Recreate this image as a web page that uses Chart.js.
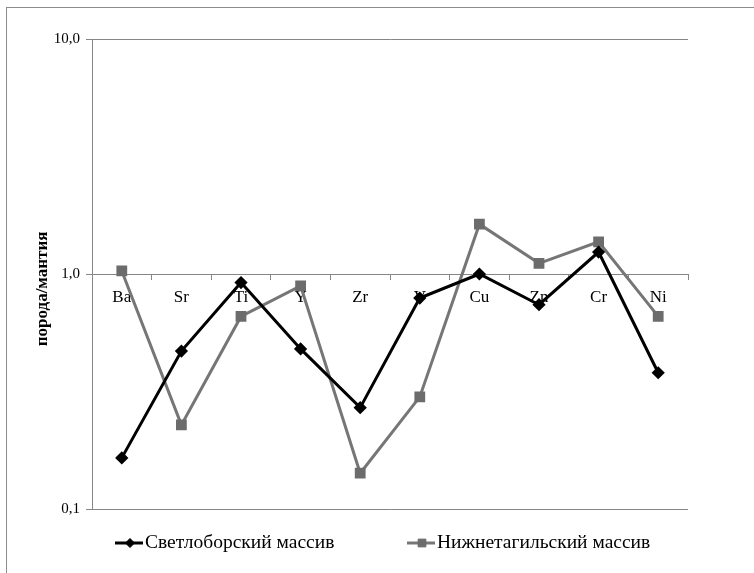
<!DOCTYPE html>
<html>
<head>
<meta charset="utf-8">
<script src="https://cdn.jsdelivr.net/npm/chart.js@4.4.0/dist/chart.umd.min.js"></script>
<style>
html, body { margin: 0; padding: 0; background: #fff; }
#myChart { display: block; }
</style>
</head>
<body>
<canvas id="myChart" width="754" height="573"></canvas>
<script>
// data (ratio rock / mantle, log scale)
var elements = ["Ba", "Sr", "Ti", "Y", "Zr", "V", "Cu", "Zn", "Cr", "Ni"];
var svetlobor = [0.165, 0.47, 0.92, 0.48, 0.27, 0.79, 1.0, 0.74, 1.24, 0.38];
var nizhnetagil = [1.03, 0.228, 0.66, 0.89, 0.142, 0.30, 1.63, 1.11, 1.37, 0.66];
var yTicks = [0.1, 1, 10];
var seriesNames = ["Светлоборский массив", "Нижнетагильский массив"];
var yTitle = "порода/мантия";

var axisGray = '#868686';
var serif = "'Liberation Serif', 'Times New Roman', serif";

// outer frame like the pasted Excel chart
var framePlugin = {
    id: 'frame',
    beforeDraw: function(chart) {
        var c = chart.ctx;
        c.save();
        c.fillStyle = '#fff';
        c.fillRect(0, 0, chart.width, chart.height);
        c.strokeStyle = '#8c8c8c';
        c.lineWidth = 1;
        c.strokeRect(6.5, 7.5, 800, 620);
        c.restore();
    }
};

// legend at the bottom: short line + marker + text
var legendPlugin = {
    id: 'bottomLegend',
    afterDraw: function(chart) {
        var c = chart.ctx;
        var pos = [115, 407];
        var y = 543;
        c.save();
        chart.data.datasets.forEach(function(ds, i) {
            var x = pos[i];
            c.strokeStyle = ds.borderColor;
            c.lineWidth = ds.borderWidth;
            c.beginPath();
            c.moveTo(x, y);
            c.lineTo(x + 28, y);
            c.stroke();
            c.fillStyle = ds.pointBackgroundColor;
            c.strokeStyle = ds.pointBorderColor;
            c.lineWidth = 1;
            Chart.helpers.drawPoint(c, {
                pointStyle: ds.pointStyle,
                radius: ds.pointRadius,
                borderWidth: 1,
                rotation: 0
            }, x + 15, y);
            c.fillStyle = '#000';
            c.font = '19.5px ' + serif;
            c.textBaseline = 'middle';
            c.textAlign = 'left';
            c.fillText(ds.label, x + 30, y);
        });
        c.restore();
    }
};

var ctx = document.getElementById('myChart').getContext('2d');
var chart = new Chart(ctx, {
    type: 'line',
    data: {
        labels: elements,
        datasets: [{
            label: seriesNames[0],
            data: svetlobor,
            borderColor: '#000000',
            backgroundColor: '#000000',
            pointBackgroundColor: '#000000',
            pointBorderColor: '#000000',
            borderWidth: 3,
            pointStyle: 'rectRot',
            pointRadius: 4.5,
            tension: 0
        }, {
            label: seriesNames[1],
            data: nizhnetagil,
            borderColor: '#767676',
            backgroundColor: '#6c6c6c',
            pointBackgroundColor: '#6c6c6c',
            pointBorderColor: '#6c6c6c',
            borderWidth: 3,
            pointStyle: 'rect',
            pointRadius: 5.5,
            tension: 0
        }]
    },
    options: {
        responsive: false,
        animation: false,
        devicePixelRatio: 1,
        layout: { padding: { left: 0, top: 39, right: 66, bottom: 64 } },
        plugins: {
            legend: { display: false },
            tooltip: { enabled: false }
        },
        scales: {
            x: {
                type: 'category',
                position: { y: 1 },
                offset: true,
                grid: {
                    offset: true,
                    drawOnChartArea: false,
                    drawTicks: true,
                    tickLength: 5,
                    color: axisGray
                },
                border: { color: axisGray, width: 1 },
                ticks: {
                    color: '#000',
                    padding: 8,
                    maxRotation: 0,
                    autoSkip: false,
                    font: { family: serif, size: 17 }
                }
            },
            y: {
                type: 'logarithmic',
                min: 0.1,
                max: 10,
                afterBuildTicks: function(scale) {
                    scale.ticks = yTicks.map(function(v) { return { value: v }; });
                },
                afterFit: function(scale) {
                    scale.width = 92;
                },
                grid: {
                    color: axisGray,
                    drawTicks: true,
                    tickLength: 6
                },
                border: { color: axisGray, width: 1 },
                ticks: {
                    color: '#000',
                    padding: 6,
                    font: { family: serif, size: 15 },
                    callback: function(v) {
                        return Number(v).toFixed(1).replace('.', ',');
                    }
                },
                title: {
                    display: true,
                    // trailing spaces push the text a bit lower, as in the original
                    text: yTitle + '\u00a0\u00a0\u00a0\u00a0\u00a0\u00a0\u00a0',
                    color: '#000',
                    padding: { top: 32, bottom: 0 },
                    font: { family: serif, size: 17, weight: 'bold' }
                }
            }
        }
    },
    plugins: [framePlugin, legendPlugin]
});
</script>
</body>
</html>
